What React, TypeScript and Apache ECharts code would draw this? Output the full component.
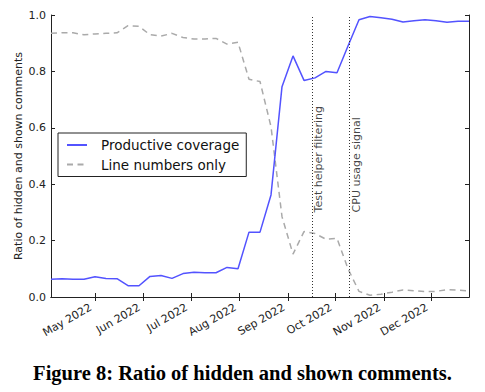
import React, { useEffect, useRef } from 'react';
import * as echarts from 'echarts';

const weekDates = [
  '2022-04-03', '2022-04-10', '2022-04-17', '2022-04-24',
  '2022-05-01', '2022-05-08', '2022-05-15', '2022-05-22', '2022-05-29',
  '2022-06-05', '2022-06-12', '2022-06-19', '2022-06-26',
  '2022-07-03', '2022-07-10', '2022-07-17', '2022-07-24', '2022-07-31',
  '2022-08-07', '2022-08-14', '2022-08-21', '2022-08-28',
  '2022-09-04', '2022-09-11', '2022-09-18', '2022-09-25',
  '2022-10-02', '2022-10-09', '2022-10-16', '2022-10-23', '2022-10-30',
  '2022-11-06', '2022-11-13', '2022-11-20', '2022-11-27',
  '2022-12-04', '2022-12-11', '2022-12-18', '2022-12-25',
];

const productiveCoverage = [
  0.063, 0.065, 0.063, 0.063,
  0.072, 0.066, 0.065, 0.040, 0.040,
  0.073, 0.076, 0.066, 0.083,
  0.088, 0.086, 0.086, 0.105, 0.100,
  0.230, 0.230, 0.362, 0.746,
  0.855, 0.768, 0.777, 0.800,
  0.795, 0.890, 0.983, 0.995, 0.990,
  0.985, 0.975, 0.980, 0.983,
  0.980, 0.974, 0.978, 0.978,
];

const lineNumbersOnly = [
  0.935, 0.937, 0.937, 0.930,
  0.933, 0.935, 0.937, 0.962, 0.960,
  0.930, 0.925, 0.935, 0.920,
  0.915, 0.915, 0.917, 0.897, 0.903,
  0.772, 0.764, 0.604, 0.285,
  0.152, 0.232, 0.225, 0.205,
  0.208, 0.100, 0.020, 0.006, 0.010,
  0.017, 0.025, 0.022, 0.019,
  0.020, 0.026, 0.024, 0.022,
];

const monthTicks = [
  '2022-05-01', '2022-06-01', '2022-07-01', '2022-08-01',
  '2022-09-01', '2022-10-01', '2022-11-01', '2022-12-01',
];
const monthNames = ['Jan', 'Feb', 'Mar', 'Apr', 'May', 'Jun', 'Jul', 'Aug', 'Sep', 'Oct', 'Nov', 'Dec'];

const annotationDates = ['2022-09-16', '2022-10-10'];
const annotationLabels = ['Test helper filtering', 'CPU usage signal'];
const annotationY = 0.3;

const seriesNames = ['Productive coverage', 'Line numbers only'];
const caption = 'Figure 8: Ratio of hidden and shown comments.';
const yAxisTitle = 'Ratio of hidden and shown comments';

const ts = (d: string) => Date.UTC(+d.slice(0, 4), +d.slice(5, 7) - 1, +d.slice(8, 10));

const FONT = 'DejaVu Sans';

export default function App() {
  const ref = useRef<HTMLDivElement>(null);
  useEffect(() => {
    if (!ref.current) return;
    const chart = echarts.init(ref.current, undefined, { renderer: 'svg' });
    const xMin = ts(weekDates[0]);
    const xMax = ts(weekDates[weekDates.length - 1]);
    const tickVals = monthTicks.map(ts);
    const fmt = (v: number) => {
      const d = new Date(v);
      return monthNames[d.getUTCMonth()] + ' ' + d.getUTCFullYear();
    };
    const axisLineStyle = { color: '#222', width: 1 };
    chart.setOption({
      animation: false,
      backgroundColor: '#fff',
      title: {
        text: caption,
        left: 'center',
        top: 357,
        textStyle: { fontFamily: 'Liberation Serif', fontWeight: 'bold', fontSize: 20.5, color: '#000' },
      },
      grid: { left: 51, top: 15, right: 16, bottom: 95 },
      legend: {
        data: seriesNames,
        orient: 'vertical',
        left: 58,
        top: 133,
        padding: [5, 7, 5, 8],
        itemWidth: 20,
        itemHeight: 12,
        itemGap: 5.5,
        borderColor: '#222',
        borderWidth: 1,
        borderRadius: 0,
        backgroundColor: '#fff',
        itemStyle: { color: 'transparent', borderColor: 'transparent', borderWidth: 0 },
        textStyle: { fontFamily: FONT, fontSize: 13.5, color: '#111', padding: [0, 0, 0, 9] },
      },
      xAxis: [
        {
          type: 'value',
          min: xMin,
          max: xMax,
          splitLine: { show: false },
          axisLine: { show: true, lineStyle: axisLineStyle },
          axisTick: { show: true, inside: true, length: 4, customValues: tickVals, lineStyle: axisLineStyle },
          axisLabel: {
            customValues: tickVals,
            formatter: fmt,
            rotate: 30,
            margin: 7,
            padding: [0, 5, 0, 0],
            fontFamily: FONT,
            fontSize: 11,
            color: '#222',
          },
        },
        {
          type: 'value',
          position: 'top',
          min: xMin,
          max: xMax,
          splitLine: { show: false },
          axisLine: { show: true, lineStyle: axisLineStyle },
          axisTick: { show: true, inside: true, length: 4, customValues: tickVals, lineStyle: axisLineStyle },
          axisLabel: { show: false },
        },
      ],
      yAxis: [
        {
          type: 'value',
          min: 0,
          max: 1,
          interval: 0.2,
          name: yAxisTitle,
          nameLocation: 'middle',
          nameGap: 27,
          nameMoveOverlap: false,
          nameTextStyle: { fontFamily: FONT, fontSize: 11, color: '#222' },
          splitLine: { show: false },
          axisLine: { show: true, lineStyle: axisLineStyle },
          axisTick: { show: true, inside: true, length: 4, lineStyle: axisLineStyle },
          axisLabel: {
            formatter: (v: number) => v.toFixed(1),
            margin: 5,
            fontFamily: FONT,
            fontSize: 11,
            color: '#222',
          },
        },
        {
          type: 'value',
          position: 'right',
          min: 0,
          max: 1,
          interval: 0.2,
          splitLine: { show: false },
          axisLine: { show: true, lineStyle: axisLineStyle },
          axisTick: { show: true, inside: true, length: 4, lineStyle: axisLineStyle },
          axisLabel: { show: false },
        },
      ],
      series: [
        {
          name: seriesNames[0],
          type: 'line',
          symbol: 'none',
          data: weekDates.map((d, i) => [ts(d), productiveCoverage[i]]),
          lineStyle: { color: '#5353ff', width: 1.5 },
          itemStyle: { color: '#5353ff' },
          z: 3,
        },
        {
          name: seriesNames[1],
          type: 'line',
          symbol: 'none',
          data: weekDates.map((d, i) => [ts(d), lineNumbersOnly[i]]),
          lineStyle: { color: '#aaaaaa', width: 1.5, type: [6, 4.5] },
          itemStyle: { color: '#aaaaaa' },
          z: 2,
        },
        {
          name: 'annotations',
          type: 'scatter',
          symbolSize: 0,
          silent: true,
          data: annotationDates.map((d, i) => ({ name: annotationLabels[i], value: [ts(d), annotationY] })),
          itemStyle: { color: 'transparent' },
          label: {
            show: true,
            formatter: '{b}',
            rotate: 90,
            position: [1, 0],
            align: 'left',
            verticalAlign: 'top',
            fontFamily: FONT,
            fontSize: 11,
            color: '#111',
          },
          markLine: {
            silent: true,
            symbol: ['none', 'none'],
            label: { show: false },
            lineStyle: { color: '#333', width: 1, type: [1, 2] },
            data: annotationDates.map((d) => ({ xAxis: ts(d) })),
          },
          z: 4,
        },
      ],
    });
    return () => chart.dispose();
  }, []);
  return (
    <div
      ref={ref}
      style={{ position: 'absolute', left: 0, top: 0, width: 485, height: 392, background: '#fff' }}
    />
  );
}
